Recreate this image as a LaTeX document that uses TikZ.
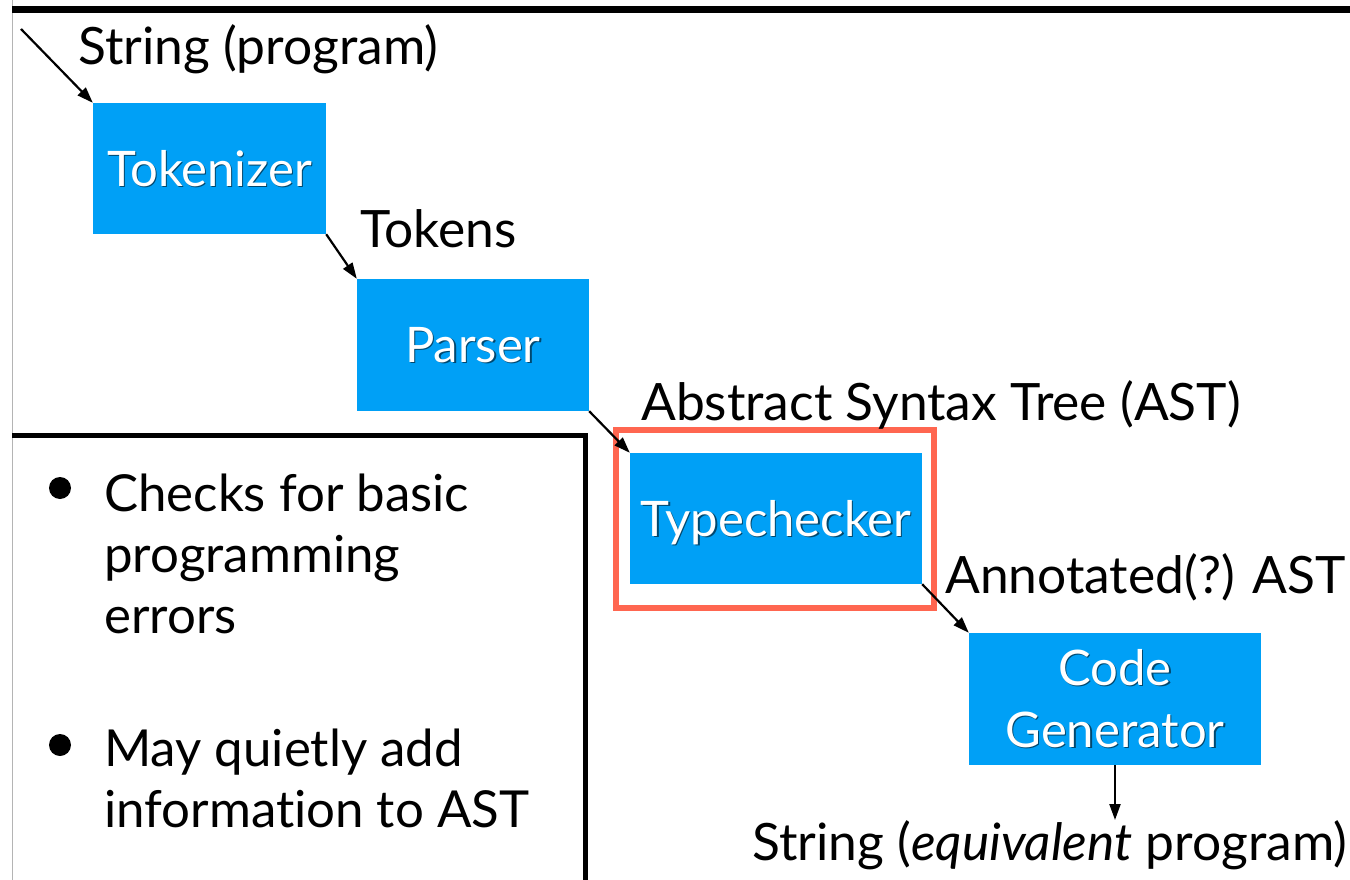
\documentclass[tikz,border=0pt]{standalone}
\usepackage{fontspec}
\setmainfont{Lato}[Ligatures=NoCommon]
\usepackage{tikz}
\usetikzlibrary{arrows.meta}
\definecolor{stage_blue}{HTML}{00A0F6}
\definecolor{focus_red}{HTML}{FF6650}
\definecolor{rule_gray}{HTML}{B4B4B4}
% white stage text with a soft drop shadow behind it
\newcommand{\stagetext}[1]{\rlap{\kern1.3pt\raisebox{-1.3pt}{\color{stage_blue!45!black}#1}}#1}

\begin{document}
\begin{tikzpicture}[
    x=1pt, y=-1pt,
    stage/.style={fill=stage_blue, text=white, inner sep=0pt, align=center,
        font=\fontsize{49}{62}\selectfont},
    flowlabel/.style={anchor=base west, inner sep=0pt, font=\fontsize{51.5}{62}\selectfont},
    bulletline/.style={anchor=base west, inner sep=0pt, align=left,
        font=\fontsize{51}{61}\selectfont},
    flow/.style={-{Triangle[length=16pt, width=11pt]}, line width=2.2pt},
    focus/.style={draw=focus_red, line width=6pt}
]
% Page in pixel units: x to the right, y downward
\clip (0,0) rectangle (1350,880);

% Slide furniture: title rule and left margin line
\draw[rule_gray, line width=1.5pt] (12.5,0) -- (12.5,880);
\draw[line width=7pt] (12,9.5) -- (1350,9.5);

% Pipeline stages
\node[stage, minimum width=233, minimum height=131, text depth=0pt] (tokenizer) at (209.5,168.5) {\stagetext{Tokenizer}};
\node[stage, minimum width=232, minimum height=132, text depth=0pt] (parser) at (473,345) {\stagetext{Parser}};
\node[stage, minimum width=292, minimum height=131, text depth=0pt] (typechecker) at (776,518.5) {\stagetext{Typechecker}};
\node[stage, minimum width=292, minimum height=132] (codegen) at (1115,699) {\stagetext{Code}\\\stagetext{Generator}};

% Highlight around the stage under discussion
\draw[focus] ([shift={(-14,-23)}]typechecker.north west) rectangle ([shift={(12,24)}]typechecker.south east);

% What flows between the stages
\node[flowlabel] (srcstr) at (78,65) {String (program)};
\node[flowlabel] (tokens) at (360,247) {Tokens};
\node[flowlabel] (ast) at (641,420) {Abstract Syntax Tree (AST)};
\node[flowlabel] (annast) at (945,593) {Annotated(?) AST};
\node[flowlabel] (outstr) at (752,860) {String (\textit{equivalent} program)};

\coordinate (srcin) at (21,29);
\coordinate (outpt) at (1115,820);
\draw[flow] (srcin) -- (tokenizer.north west);
\draw[flow] (tokenizer.south east) -- (parser.north west);
\draw[flow] (parser.south east) -- (typechecker.north west);
\draw[flow] (typechecker.south east) -- (codegen.north west);
\draw[flow] (codegen.south) -- (outpt);

% Notes box, open at the bottom (base anchor sits on the last line)
\draw[line width=5pt] (12,435) -- (585,435) -- (585,890);
\fill (60,488) circle (11pt);
\fill (60,745) circle (11pt);
\node[bulletline] (checks) at (104,633) {Checks for basic\\programming\\errors};
\node[bulletline] (quietly) at (104,827) {May quietly add\\information to AST};

\end{tikzpicture}
\end{document}
